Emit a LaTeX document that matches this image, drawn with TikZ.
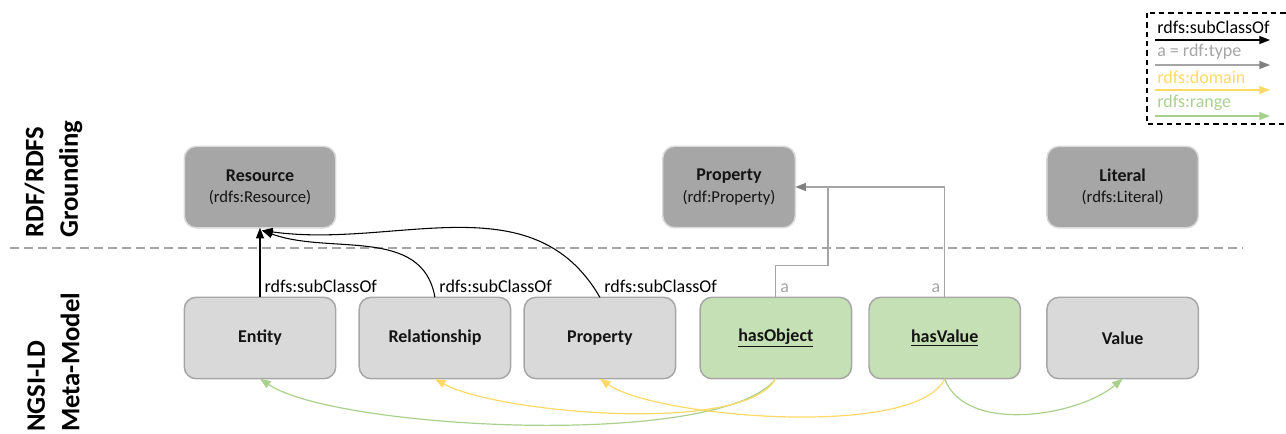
\documentclass[tikz,border=0pt]{standalone}
\usepackage{fontspec}
\setmainfont{Carlito}
\usetikzlibrary{arrows.meta, positioning}
\definecolor{darkbox}{HTML}{A6A6A6}
\definecolor{lightbox}{HTML}{D9D9D9}
\definecolor{greenfill}{HTML}{C5E0B4}
\definecolor{typecol}{HTML}{A5A5A5}
\definecolor{domaincol}{HTML}{FFD966}
\definecolor{rangecol}{HTML}{A9D18E}
\definecolor{inktext}{HTML}{141414}
\tikzstyle{rdfbox}=[draw=lightbox, fill=darkbox, line width=1.1pt, outer sep=0pt, rounded corners=9pt, minimum width=113.6pt, minimum height=61.1pt, align=center, text=inktext, font=\fontsize{13.5}{16}\selectfont]
\tikzstyle{ngsibox}=[rdfbox, draw=darkbox, fill=lightbox]
\tikzstyle{relbox}=[ngsibox, fill=greenfill]
\tikzstyle{lbl}=[font=\fontsize{13.5}{16}\selectfont, inner sep=3pt]
\tikzstyle{side}=[font=\fontsize{20}{26}\selectfont\bfseries, align=left, inner sep=0pt, rotate=90, anchor=west]
\tikzstyle{subarr}=[line width=0.8pt, -{Triangle[length=8pt,width=6pt]}]
\tikzstyle{typearr}=[line width=0.9pt, draw=typecol, -{Triangle[length=8pt,width=6pt,fill=gray,color=gray]}]
\tikzstyle{domarr}=[line width=0.9pt, draw=domaincol, -{Triangle[length=8pt,width=6pt]}]
\tikzstyle{rngarr}=[line width=0.9pt, draw=rangecol, -{Triangle[length=8pt,width=6pt]}]
\newcommand{\sub}[1]{\\{\fontsize{12.5}{16}\selectfont #1}}

\begin{document}
\begin{tikzpicture}[x=0.75pt, y=0.75pt]
    \useasboundingbox (0,0) rectangle (1286,434);

    % meta-model row
    \node [ngsibox] (E) at (260,96) {\textbf{Entity}};
    \node [ngsibox, right=17.6pt of E] (Rl) {\textbf{Relationship}};
    \node [ngsibox, right=10.1pt of Rl] (Pr) {\textbf{Property}};
    \node [relbox, right=18.35pt of Pr] (hO) {\textbf{\underline{hasObject}}};
    \node [relbox, right=13.1pt of hO] (hV) {\textbf{\underline{hasValue}}};
    \node [ngsibox, right=19.85pt of hV] (V) {\textbf{Value}};

    % grounding row
    \node [rdfbox, above=52.1pt of E] (R) {\textbf{Resource}\sub{(rdfs:Resource)}};
    \node [rdfbox, minimum width=99.4pt] (P) at (729,247) {\textbf{Property}\sub{(rdf:Property)}};
    \node [rdfbox, above=52.1pt of V] (L) {\textbf{Literal}\sub{(rdfs:Literal)}};

    % layers
    \node [side] (up) at (53.5,196) {RDF/RDFS\\Grounding};
    \node [side] (down) at (53.5,2) {NGSI-LD\\Meta-Model};
    \coordinate (dl) at (10,186);
    \coordinate (dr) at (1243,186);
    \draw [darkbox, line width=1.1pt, dash pattern=on 6.75pt off 3.75pt] (dl) -- (dr);

    % rdfs:subClassOf
    \coordinate (tip) at ([xshift=1.5pt,yshift=-2pt]R.south);
    \path (E.north) edge[subarr] node[lbl, pos=0, anchor=south west]{rdfs:subClassOf} (R.south);
    \path (Rl.north) edge[subarr, out=100, in=-20] node[lbl, pos=0, anchor=south west]{rdfs:subClassOf} (tip);
    \path (Pr.north) edge[subarr, out=120, in=-8] node[lbl, pos=0, anchor=south west]{rdfs:subClassOf} (tip);

    % rdf:type
    \coordinate (jn) at (828,247);
    \draw [typearr, -] (hO.north) -- node[lbl, pos=0, anchor=south west, text=typecol]{a} ++(0,32) -| (jn);
    \draw [typearr] (hV.north) |- node[lbl, pos=0, anchor=south east, text=typecol]{a} (P.east);

    % domain and range
    \draw [rngarr] (hO.south) to[out=-128, in=-34, looseness=0.45] (E.south);
    \draw [domarr] (hO.south) to[out=-120, in=-30, looseness=0.5] (Rl.south);
    \draw [domarr] (hV.south) to[out=-115, in=-35, looseness=0.5] (Pr.south);
    \draw [rngarr] (hV.south) to[out=-70, in=-140, looseness=0.85] (V.south);

    % legend
    \coordinate (lg1) at (1147,421);
    \coordinate (lg2) at (1292,310);
    \draw [line width=1.3pt, dash pattern=on 4pt off 3pt] (lg1) rectangle (lg2);
    \foreach \name/\sty/\col/\yy in {rdfs:subClassOf/subarr/black/407, a = rdf:type/typearr/typecol/382, rdfs:domain/domarr/domaincol/357, rdfs:range/rngarr/rangecol/331}{
        \node [lbl, inner sep=0pt, anchor=west, text=\col] (t\yy) at (1157,\yy) {\name};
        \coordinate (a\yy) at (1155,\yy-13);
        \coordinate (b\yy) at (1270,\yy-13);
        \draw [\sty] (a\yy) -- (b\yy);
    }
\end{tikzpicture}
\end{document}
